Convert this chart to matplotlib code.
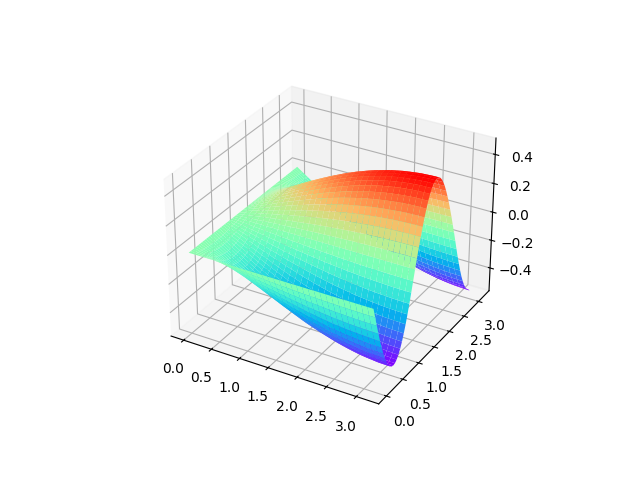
import numpy as np
import matplotlib
matplotlib.use('Agg')
import matplotlib.pyplot as plt

# grid
x_vals = [0.0, 0.098, 0.196, 0.295, 0.393, 0.491, 0.589, 0.687, 0.785, 0.884, 0.982,
          1.080, 1.178, 1.276, 1.374, 1.473, 1.571, 1.669, 1.767, 1.865, 1.963,
          2.062, 2.160, 2.258, 2.356, 2.454, 2.553, 2.651, 2.749, 2.847, 2.945, 3.043, 3.142]
y_vals = [0.0, 0.052, 0.105, 0.157, 0.209, 0.262, 0.314, 0.367, 0.419, 0.471, 0.524, 0.576,
          0.628, 0.681, 0.733, 0.785, 0.838, 0.890, 0.942, 0.995, 1.047, 1.100, 1.152, 1.204,
          1.257, 1.309, 1.361, 1.414, 1.466, 1.518, 1.571, 1.623, 1.676, 1.728, 1.780, 1.833,
          1.885, 1.937, 1.990, 2.042, 2.094, 2.147, 2.199, 2.251, 2.304, 2.356, 2.409, 2.461,
          2.513, 2.566, 2.618, 2.670, 2.723, 2.775, 2.827, 2.880, 2.932, 2.985, 3.037, 3.089, 3.142]

# height profiles along x, going down into the valleys
flat = [0] * 33
l01 = -np.array([0, .003, .007, .010, .014, .017, .020, .023, .026, .030, .033, .036, .038, .041, .044, .046, .049, .051, .053, .056, .058, .059, .061, .063, .064, .065, .066, .067, .068, .068, .069, .069, .069])
l02 = -np.array([0, .007, .013, .020, .027, .033, .040, .046, .053, .059, .065, .071, .076, .082, .087, .092, .097, .102, .106, .110, .114, .118, .121, .124, .127, .129, .131, .133, .135, .136, .137, .137, .137])
l03 = -np.array([0, .010, .020, .030, .040, .049, .059, .068, .078, .087, .096, .104, .113, .121, .129, .136, .143, .150, .157, .163, .169, .174, .179, .183, .187, .191, .194, .197, .199, .201, .202, .203, .203])
l04 = -np.array([0, .013, .026, .039, .052, .064, .077, .089, .101, .113, .125, .136, .147, .158, .168, .178, .187, .196, .205, .213, .220, .227, .234, .240, .245, .249, .254, .257, .260, .262, .264, .265, .265])
l05 = -np.array([0, .016, .032, .047, .063, .078, .094, .109, .123, .138, .152, .166, .179, .192, .205, .217, .228, .239, .249, .259, .268, .277, .285, .292, .298, .304, .309, .313, .317, .319, .321, .322, .323])
l06 = -np.array([0, .018, .037, .055, .073, .091, .109, .126, .143, .160, .177, .193, .208, .223, .238, .252, .265, .278, .290, .301, .312, .321, .330, .339, .346, .353, .359, .363, .368, .371, .373, .374, .375])
l07 = -np.array([0, .021, .041, .062, .082, .102, .122, .142, .161, .180, .198, .216, .234, .250, .267, .282, .297, .312, .325, .338, .350, .361, .371, .380, .388, .396, .402, .408, .412, .416, .418, .420, .421])
l08 = -np.array([0, .023, .045, .067, .090, .112, .133, .155, .176, .196, .216, .236, .255, .273, .291, .308, .325, .340, .355, .369, .382, .394, .405, .415, .424, .432, .439, .445, .450, .454, .457, .458, .459])
l09 = -np.array([0, .024, .048, .072, .096, .119, .142, .165, .187, .209, .231, .252, .272, .292, .311, .329, .346, .363, .379, .393, .407, .420, .432, .443, .452, .461, .469, .475, .480, .484, .487, .489, .490])
l10 = -np.array([0, .025, .050, .075, .100, .124, .149, .172, .196, .219, .241, .263, .284, .305, .325, .344, .362, .379, .396, .411, .426, .439, .452, .463, .473, .482, .490, .497, .502, .506, .510, .511, .512])
l11 = -np.array([0, .026, .051, .077, .103, .128, .153, .177, .201, .225, .248, .270, .292, .313, .333, .353, .372, .389, .406, .422, .437, .451, .463, .475, .485, .495, .503, .510, .515, .520, .523, .525, .525])
l12 = -np.array([0, .026, .052, .078, .103, .129, .154, .179, .203, .227, .250, .272, .294, .316, .336, .356, .375, .393, .410, .426, .441, .455, .467, .479, .490, .499, .507, .514, .520, .524, .527, .529, .530])
edge = -np.array([0, .027, .053, .080, .106, .132, .158, .184, .209, .233, .257, .280, .303, .325, .346, .366, .385, .404, .421, .438, .453, .467, .481, .493, .504, .513, .522, .529, .535, .539, .542, .544, .545])
# and up onto the ridge
h01 = [0, .003, .006, .009, .012, .016, .019, .022, .024, .027, .030, .033, .036, .038, .041, .043, .045, .047, .049, .051, .053, .055, .056, .058, .059, .060, .061, .062, .063, .063, .064, .064, .064]
h02 = [0, .006, .012, .019, .025, .031, .037, .043, .049, .054, .060, .065, .071, .076, .081, .085, .090, .094, .098, .102, .106, .109, .112, .115, .117, .119, .121, .123, .124, .126, .126, .127, .127]
h03 = [0, .009, .018, .028, .037, .046, .054, .063, .072, .080, .088, .096, .104, .112, .119, .126, .133, .139, .145, .151, .156, .161, .165, .170, .173, .177, .179, .182, .184, .185, .187, .187, .188]
h04 = [0, .012, .024, .036, .048, .060, .071, .083, .094, .105, .115, .126, .136, .146, .155, .165, .173, .182, .189, .197, .204, .210, .216, .221, .226, .231, .234, .238, .240, .242, .244, .245, .245]
h05 = [0, .015, .029, .044, .058, .072, .087, .100, .114, .128, .141, .153, .166, .178, .189, .200, .211, .221, .231, .240, .248, .256, .263, .270, .276, .281, .285, .289, .293, .295, .297, .298, .298]
h06 = [0, .017, .034, .051, .068, .084, .101, .117, .133, .148, .163, .178, .192, .206, .220, .233, .245, .257, .268, .278, .288, .297, .305, .313, .320, .326, .331, .336, .340, .343, .345, .346, .346]
h07 = [0, .019, .038, .057, .076, .094, .113, .131, .149, .166, .183, .200, .216, .232, .247, .261, .275, .288, .301, .312, .323, .333, .343, .351, .359, .366, .372, .377, .381, .385, .387, .388, .389]
h08 = [0, .021, .042, .062, .083, .103, .123, .143, .162, .181, .200, .218, .236, .253, .269, .285, .300, .314, .328, .341, .353, .364, .374, .384, .392, .399, .406, .412, .416, .420, .422, .424, .424]
h09 = [0, .022, .044, .066, .088, .110, .131, .153, .173, .194, .213, .233, .252, .270, .287, .304, .320, .335, .350, .364, .376, .388, .399, .409, .418, .426, .433, .439, .444, .448, .451, .452, .453]
h10 = [0, .023, .046, .069, .092, .115, .137, .159, .181, .202, .223, .243, .263, .282, .300, .318, .335, .351, .366, .380, .394, .406, .417, .428, .437, .446, .453, .459, .464, .468, .471, .473, .473]
h11 = [0, .024, .048, .071, .095, .118, .141, .164, .186, .208, .229, .250, .270, .289, .308, .326, .344, .360, .376, .390, .404, .417, .428, .439, .449, .457, .465, .471, .476, .481, .483, .485, .486]
h12 = [0, .024, .048, .072, .096, .119, .142, .165, .188, .210, .231, .252, .272, .292, .311, .329, .346, .363, .379, .394, .407, .420, .432, .443, .453, .461, .469, .475, .481, .485, .488, .489, .490]

# one row per y value
z_rows = [flat, l01, l02, l03, l04, l05, l06, l07, l08, l09, l10, l11, l12,
          l11, l10, l09, l08, l07, l06, l05, l04, l03, l02, l01,
          flat, h01, h02, h03, h04, h05, h06, h07, h08, h09, h10, h11, h12,
          h11, h10, h09, h08, h07, h06, h05, h04, h03, h02, h01,
          flat, l01, l02, l03, l04, l05, l06, l07, l08, l09, l10, l11, edge]

X, Y = np.meshgrid(x_vals, y_vals)
Z = np.array(z_rows, dtype=float)

fig = plt.figure(figsize=(6.4, 4.8), dpi=100)
ax = fig.add_subplot(projection='3d')
ax.plot_surface(X, Y, Z, rstride=1, cstride=1, cmap='rainbow')

fig.savefig('out.png', dpi=100)
